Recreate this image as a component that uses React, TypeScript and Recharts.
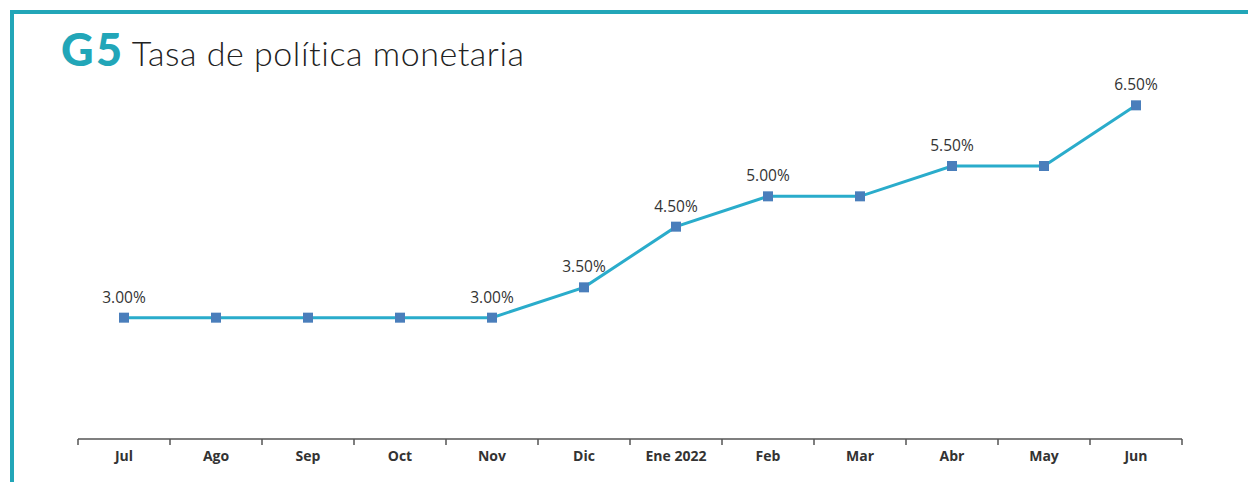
import { LineChart, Line, XAxis, YAxis, LabelList } from "recharts";

const months = ["Jul", "Ago", "Sep", "Oct", "Nov", "Dic", "Ene 2022", "Feb", "Mar", "Abr", "May", "Jun"];
const rate = [3.0, 3.0, 3.0, 3.0, 3.0, 3.5, 4.5, 5.0, 5.0, 5.5, 5.5, 6.5];
const labelled = ["Jul", "Nov", "Dic", "Ene 2022", "Feb", "Abr", "Jun"];

const data = months.map((m, i) => ({ month: m, rate: rate[i], show: labelled.includes(m) }));

const TEAL = "#22a6b8";
const HALF_BAND = 46;

function SquareDot(props: any) {
  const { cx, cy } = props;
  if (cx == null || cy == null) return null;
  return <rect x={cx - 5} y={cy - 5} width={10} height={10} fill="#4a7ebb" />;
}

function RateLabel(props: any) {
  const { x, y, value, index } = props;
  if (!data[index].show) return null;
  return (
    <text x={x} y={y - 15} textAnchor="middle" fontSize={15.5} fill="#333" fontFamily="Open Sans, sans-serif">
      {value.toFixed(2)}%
    </text>
  );
}

// tick marks sit on the band edges, labels in the middle
function MonthTick(props: any) {
  const { x, y, payload, index } = props;
  const last = index === months.length - 1;
  return (
    <g>
      <line x1={x - HALF_BAND} y1={y - 8} x2={x - HALF_BAND} y2={y - 2} stroke="#555" strokeWidth={1.5} />
      {last && <line x1={x + HALF_BAND} y1={y - 8} x2={x + HALF_BAND} y2={y - 2} stroke="#555" strokeWidth={1.5} />}
      <text x={x} y={y + 14} textAnchor="middle" fill="#333" fontSize={14} fontWeight={700} fontFamily="Open Sans, sans-serif">
        {payload.value}
      </text>
    </g>
  );
}

export default function App() {
  return (
    <div style={{ position: "absolute", left: 0, top: 0, width: 1248, height: 482, background: "#fff", overflow: "hidden" }}>
      <div style={{ position: "absolute", left: 10, top: 10, width: 1238, height: 4, background: TEAL }} />
      <div style={{ position: "absolute", left: 10, top: 10, width: 4, height: 472, background: TEAL }} />
      <div
        style={{
          position: "absolute",
          left: 61,
          top: 22,
          whiteSpace: "nowrap",
          fontFamily: "Lato, sans-serif",
          color: "#222",
        }}
      >
        <span style={{ fontSize: 45, fontWeight: 900, color: TEAL, letterSpacing: 2.5 }}>G5</span>
        <span style={{ fontSize: 34, fontWeight: 300, marginLeft: 7, letterSpacing: 0.55 }}>Tasa de política monetaria</span>
      </div>
      <div style={{ position: "absolute", left: 0, top: 0 }}>
        <LineChart width={1248} height={482} data={data} margin={{ top: 75, right: 66, left: 78, bottom: 13 }}>
          <XAxis
            dataKey="month"
            height={30}
            stroke="#555"
            strokeWidth={1.5}
            tickLine={false}
            tickSize={6}
            padding={{ left: HALF_BAND, right: HALF_BAND }}
            tick={<MonthTick />}
            interval={0}
          />
          <YAxis hide domain={[1, 7]} />
          <Line
            type="linear"
            dataKey="rate"
            stroke="#2aaccb"
            strokeWidth={3}
            dot={<SquareDot />}
            activeDot={false}
            isAnimationActive={false}
          >
            <LabelList dataKey="rate" content={<RateLabel />} />
          </Line>
        </LineChart>
      </div>
    </div>
  );
}
